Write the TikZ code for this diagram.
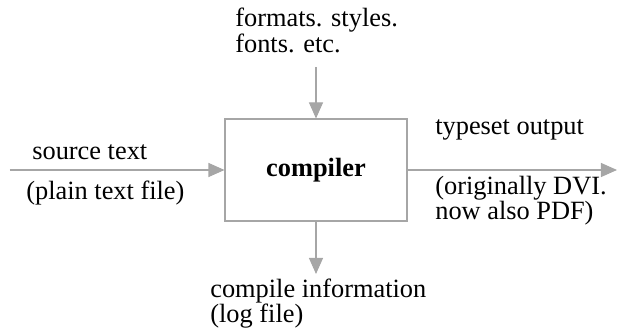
\documentclass[tikz,border=0pt]{standalone}
\usepackage{fontspec}
\setmainfont{Liberation Serif}
\usetikzlibrary{arrows.meta}

\begin{document}
\begin{tikzpicture}[
    label/.style={font=\fontsize{15}{13.6}\selectfont, align=left, anchor=base west, inner sep=0pt},
    machine/.style={draw=gray!70, line width=0.6pt, minimum width=3.64cm, minimum height=2.04cm, font=\fontsize{15}{16}\selectfont\bfseries},
    arrow/.style={-{Triangle[length=3.2mm, width=2.8mm]}, draw=gray!70, fill=gray!75, line width=0.6pt}
]
\useasboundingbox (0,0) rectangle (12.34,6.64);

\node[machine] (comp) at (6.32, 3.24) {compiler};

% inputs and outputs
\coordinate (src) at (0.20, 3.24);
\coordinate (out) at (12.34, 3.24);
\coordinate (fmt) at (6.32, 5.30);
\coordinate (log) at (6.32, 1.16);

\draw[arrow] (src) -- (comp.west);
\draw[arrow] (fmt) -- (comp.north);
\draw[arrow] (comp.east) -- (out);
\draw[arrow] (comp.south) -- (log);

% base anchor sits on the last line
\node[label] (fmttext) at (4.70, 5.58) {formats. styles.\\fonts. etc.};
\node[label] (srctext) at (0.64, 3.44) {source text};
\node[label] (srcnote) at (0.52, 2.64) {(plain text file)};
\node[label] (outtext) at (8.70, 3.94) {typeset output};
\node[label] (outnote) at (8.70, 2.24) {(originally DVI.\\now also PDF)};
\node[label] (logtext) at (4.20, 0.18) {compile information\\(log file)};
\end{tikzpicture}
\end{document}
